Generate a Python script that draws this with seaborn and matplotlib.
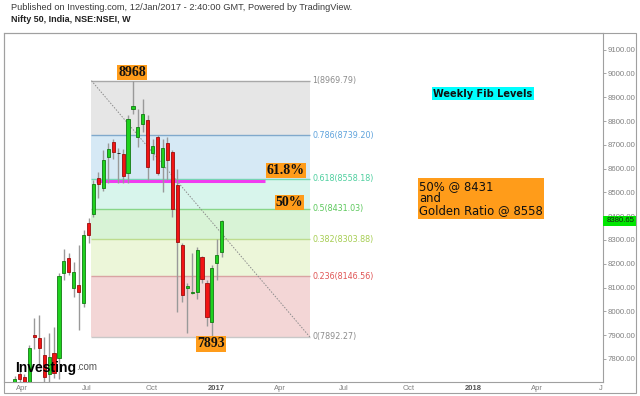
import numpy as np
import pandas as pd
import matplotlib
matplotlib.use("Agg")
import matplotlib.pyplot as plt
import matplotlib.dates as mdates
import matplotlib.transforms as mtransforms
from matplotlib.patches import Rectangle
import seaborn as sns

# ---------------- data ----------------
week_start = "2016-03-21"
opens = [7640, 7737, 7726, 7555, 7902, 7887, 7817, 7737, 7826, 7805,
         8163, 8223, 8097, 8111, 8034, 8373, 8409, 8561, 8517, 8650,
         8712, 8665, 8662, 8580, 8850, 8732, 8788, 8805, 8665, 8732,
         8608, 8707, 8669, 8531, 8279, 8097, 8078, 8083, 8227, 8121,
         7957, 8205, 8251]
highs = [7728, 7750, 7735, 7859, 7971, 7985, 7894, 7908, 7936, 8160,
         8261, 8244, 8209, 8279, 8342, 8392, 8550, 8586, 8680, 8708,
         8725, 8687, 8683, 8826, 8968, 8851, 8892, 8826, 8723, 8741,
         8725, 8732, 8678, 8597, 8289, 8118, 8247, 8272, 8233, 8132,
         8195, 8303, 8384]
lows = [7620, 7680, 7520, 7550, 7841, 7765, 7690, 7700, 7720, 7715,
        8132, 8153, 8059, 7922, 8020, 8286, 8398, 8477, 8505, 8540,
        8640, 8540, 8541, 8541, 8830, 8691, 8755, 8552, 8636, 8573,
        8503, 8552, 8398, 7999, 8041, 7910, 8072, 8051, 8121, 7940,
        7893, 8132, 8227]
closes = [7716, 7717, 7555, 7845, 7892, 7845, 7726, 7807, 7740, 8149,
          8213, 8167, 8167, 8083, 8321, 8321, 8535, 8535, 8636, 8681,
          8669, 8665, 8570, 8807, 8863, 8776, 8830, 8608, 8694, 8580,
          8688, 8636, 8429, 8293, 8069, 8107, 8082, 8258, 8135, 7978,
          8184, 8237, 8380.65]
last_price = 8380.65

fib_start, fib_end = "2016-07-08", "2017-05-14"
fib_high, fib_low = 8969.79, 7892.27
fib_ratios = [1, 0.786, 0.618, 0.5, 0.382, 0.236, 0]
fib_labels = ["1(8969.79)", "0.786(8739.20)", "0.618(8558.18)", "0.5(8431.03)",
              "0.382(8303.88)", "0.236(8146.56)", "0(7892.27)"]
golden_line = 8548
golden_start, golden_end = "2016-07-15", "2017-03-11"

y_ticks = list(range(7800, 9101, 100))
x_tick_dates = ["2016-04-01", "2016-07-01", "2016-10-01", "2017-01-01", "2017-04-01",
                "2017-07-01", "2017-10-01", "2018-01-01", "2018-04-01", "2018-07-01"]
x_tick_labels = ["Apr", "Jul", "Oct", "2017", "Apr", "Jul", "Oct", "2018", "Apr", "J"]

# ---------------- style ----------------
sns.set_theme(style="white")
plt.rcParams['font.family'] = ['Liberation Sans', 'DejaVu Sans']

W, H = 640, 396
fig = plt.figure(figsize=(6.4, 3.96), dpi=100)
fig.patch.set_facecolor("white")
ax = fig.add_axes([4 / W, 1 - 382 / H, (603 - 4) / W, (382 - 33) / H])
ax.set_facecolor("white")

d2n = lambda s: mdates.date2num(pd.Timestamp(s).to_pydatetime())

# fib zones
zone_colors = ["#e6e6e6", "#d6e9f5", "#d8f5ec", "#d8f3d6", "#ecf6d9", "#f3d6d6"]
line_colors = ["#a8a8a8", "#80a9cc", "#74d8b2", "#88d688", "#bddc8e", "#d9a3a3", "#c8c8c8"]
text_colors = ["#8c8c8c", "#5fa3dc", "#4fcf9f", "#5cc85c", "#a6cd52", "#e05555", "#8c8c8c"]
levels = [fib_low + r * (fib_high - fib_low) for r in fib_ratios]
fs, fe = d2n(fib_start), d2n(fib_end)
for i in range(len(levels) - 1):
    ax.fill_between([fs, fe], levels[i + 1], levels[i], color=zone_colors[i], lw=0, zorder=1)
for lev, col in zip(levels, line_colors):
    ax.hlines(lev, fs, fe, color=col, lw=1.0, zorder=2)
for lev, lab, col in zip(levels, fib_labels, text_colors):
    ax.annotate(lab, xy=(fe, lev), xytext=(2, 0), textcoords="offset points",
                va="center", ha="left", fontsize=5.8, color=col,
                family=["DejaVu Sans"], annotation_clip=False)

# diagonal trend line (seaborn)
diag = pd.DataFrame({"x": [fs, fe], "y": [fib_high, fib_low]})
sns.lineplot(data=diag, x="x", y="y", ax=ax, color="#8c8c8c", lw=0.7,
             linestyle=(0, (1.5, 1.5)), zorder=2.5)

# golden ratio line
ax.hlines(golden_line, d2n(golden_start), d2n(golden_end), color="#f03cf0", lw=2.2, zorder=2.8)

# candles
weeks = pd.date_range(week_start, periods=len(opens), freq="W-MON")
x = mdates.date2num(weeks.to_pydatetime())
o, h, l, c = map(np.asarray, (opens, highs, lows, closes))
up, down = c > o, c < o
fc = np.where(up, "#1ed21e", np.where(down, "#f21414", "#111111"))
ec = np.where(up, "#137a13", np.where(down, "#9a0d0d", "#111111"))
ax.vlines(x, l, h, color="#999999", lw=1.0, zorder=3)
ax.bar(x, np.maximum(np.abs(c - o), 2.5), bottom=np.minimum(o, c), width=4.4,
       color=fc, edgecolor=ec, linewidth=0.6, zorder=4)

# annotations
serif = ["Liberation Serif", "DejaVu Serif"]
orange = "#ff9c1a"
box = dict(boxstyle="square,pad=0.08", fc=orange, ec="none")
ax.text(d2n("2016-09-04"), 9004, "8968", ha="center", va="center", fontsize=10,
        fontweight="bold", family=serif, color="#111", bbox=box, zorder=6)
ax.text(d2n("2016-12-25"), 7863, "7893", ha="center", va="center", fontsize=10,
        fontweight="bold", family=serif, color="#111", bbox=box, zorder=6)
ax.text(d2n("2017-04-10"), 8593, "61.8%", ha="center", va="center", fontsize=10,
        fontweight="bold", family=serif, color="#111", bbox=box, zorder=6)
ax.text(d2n("2017-04-15"), 8458, "50%", ha="center", va="center", fontsize=10,
        fontweight="bold", family=serif, color="#111", bbox=box, zorder=6)

ax.text(0.7997, 0.826, "Weekly Fib Levels", transform=ax.transAxes, ha="center", va="center",
        fontsize=7, fontweight="bold", family=["DejaVu Sans"], color="#111",
        bbox=dict(boxstyle="square,pad=0.15", fc="#00ffff", ec="none"), zorder=6)
ax.text(0.6928, 0.526, "50% @ 8431\nand\nGolden Ratio @ 8558", transform=ax.transAxes,
        ha="left", va="center", fontsize=8.4, linespacing=0.92, family=["DejaVu Sans"],
        color="#111", bbox=dict(boxstyle="square,pad=0.12", fc=orange, ec="none"), zorder=6)

# axes
ax.set_xlim(d2n("2016-03-06"), d2n("2018-07-04"))
ax.set_ylim(7703, 9170)
ax.set_xlabel("")
ax.set_ylabel("")
ax.yaxis.tick_right()
ax.set_yticks(y_ticks)
ax.set_yticklabels([f"{v:.2f}" for v in y_ticks])
ax.tick_params(axis="y", which="both", length=2, width=0.6, color="#999999", pad=1,
               labelsize=5.6, labelcolor="#808080", right=True, left=False)
ax.set_xticks([d2n(d) for d in x_tick_dates])
ax.set_xticklabels(x_tick_labels)
ax.tick_params(axis="x", length=0, pad=2, labelsize=5.5, labelcolor="#808080")
for t in ax.get_xticklabels():
    if t.get_text() in ("2017", "2018"):
        t.set_fontweight("bold")
        t.set_color("#555555")
for s in ax.spines.values():
    s.set_visible(True)
    s.set_color("#a0a0a0")
    s.set_linewidth(0.8)

# current price marker
trans = mtransforms.blended_transform_factory(ax.transAxes, ax.transData)
ax.add_patch(Rectangle((1.0, last_price - 20), (636 - 603) / 599, 40, transform=trans,
                       fc="#00e600", ec="none", clip_on=False, zorder=9))
ax.text(1.0 + 4 / 599, last_price, f"{last_price:.2f}", transform=trans, ha="left", va="center",
        fontsize=5.6, color="#1a1a1a", clip_on=False, zorder=10)

# outer frame
fig.add_artist(Rectangle((4 / W, 1 - 393 / H), 632 / W, 360 / H, transform=fig.transFigure,
                         fill=False, ec="#a0a0a0", lw=0.8))

# header
fig.text(11 / W, 1 - 8 / H, "Published on Investing.com, 12/Jan/2017 - 2:40:00 GMT, Powered by TradingView.",
         fontsize=6.7, color="#3c3c3c", va="center")
fig.text(11 / W, 1 - 20 / H, "Nifty 50, India, NSE:NSEI, W", fontsize=6.5, fontweight="bold",
         color="#222222", va="center")

# logo
t1 = fig.text(15 / W, 1 - 375 / H, "Investing", fontsize=10, fontweight="bold", color="black",
              va="bottom", zorder=10)
ax.annotate(".com", xy=(1, 0.2), xycoords=t1, ha="left", va="bottom", fontsize=7,
            color="#555555", zorder=10, annotation_clip=False)

fig.savefig("out.png", dpi=100, facecolor="white")
